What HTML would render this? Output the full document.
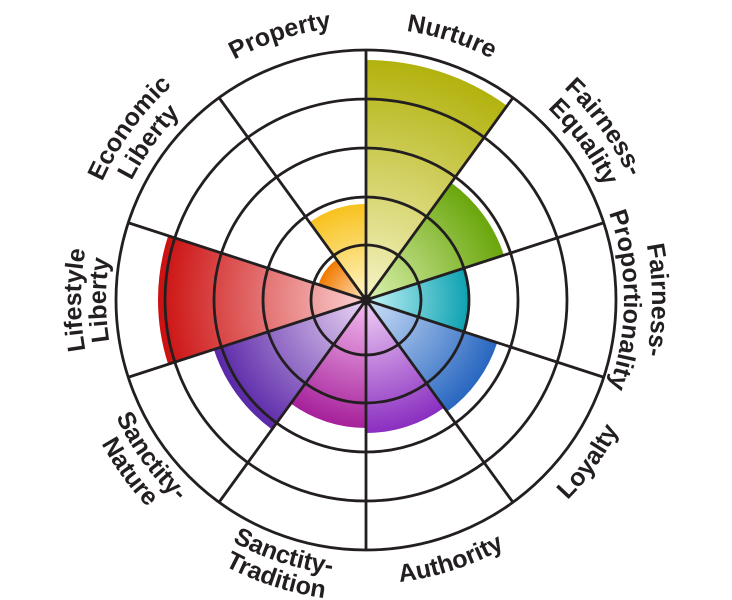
<!DOCTYPE html>
<html><head><meta charset="utf-8"><style>
html,body{margin:0;padding:0;background:#fff;}
svg{display:block;}
text{font-family:"Liberation Sans",sans-serif;font-weight:bold;fill:#231f20;font-size:25px;}
</style></head><body>
<svg id="s" width="732" height="600" viewBox="0 0 732 600" xmlns="http://www.w3.org/2000/svg"><defs id="d"></defs><g id="w"></g><g id="g" fill="none" stroke="#231f20" stroke-width="2.8"></g><g id="t"></g></svg>
<script>
var cx=366,cy=300,NS="http://www.w3.org/2000/svg";
function P(a,r){a=a*Math.PI/180;return [cx+r*Math.sin(a),cy-r*Math.cos(a)];}
var d=document.getElementById('d'),w=document.getElementById('w'),g=document.getElementById('g'),t=document.getElementById('t');
var wedges=[[240,'#f6f4c6','#b2b20e'],[145,'#dcf2b0','#6aa60c'],[102,'#c4f6f8','#0fa2b2'],[138,'#cfe2f8','#2866c0'],[133,'#f2d2f6','#8a2ec0'],[128,'#f4bdf0','#a6209a'],[160,'#ead6f4','#5a28a8'],[208,'#fbd2d2','#cc1010'],[50,'#ffe6c4','#f27a00'],[96,'#fff6c8','#f8c21e']];
wedges.forEach(function(v,i){
 var id='gr'+i;
 var gr=document.createElementNS(NS,'radialGradient');
 gr.setAttribute('id',id);gr.setAttribute('gradientUnits','userSpaceOnUse');
 gr.setAttribute('cx',cx);gr.setAttribute('cy',cy);gr.setAttribute('r',v[0]);
 gr.innerHTML='<stop offset="0" stop-color="'+v[1]+'"/><stop offset="1" stop-color="'+v[2]+'"/>';
 d.appendChild(gr);
 var a0=i*36,a1=a0+36,p0=P(a0,v[0]),p1=P(a1,v[0]);
 var p=document.createElementNS(NS,'path');
 p.setAttribute('d','M'+cx+','+cy+'L'+p0+'A'+v[0]+','+v[0]+' 0 0 1 '+p1+'Z');
 p.setAttribute('fill','url(#'+id+')');
 w.appendChild(p);
});
[55,103,152,201,250].forEach(function(r){
 var c=document.createElementNS(NS,'circle');c.setAttribute('cx',cx);c.setAttribute('cy',cy);c.setAttribute('r',r);g.appendChild(c);
});
for(var i=0;i<10;i++){var p1=P(i*36,250);var l=document.createElementNS(NS,'line');l.setAttribute('x1',cx);l.setAttribute('y1',cy);l.setAttribute('x2',p1[0]);l.setAttribute('y2',p1[1]);g.appendChild(l);}
var dot=document.createElementNS(NS,'circle');dot.setAttribute('cx',cx);dot.setAttribute('cy',cy);dot.setAttribute('r',4);dot.setAttribute('fill','#231f20');g.appendChild(dot);
var labels=[
 [18,[['Nurture',272]],1],
 [54,[['Fairness-',290],['Equality',264]],1],
 [90,[['Fairness-',286],['Proportionality',258]],1],
 [126,[['Loyalty',284]],0],
 [162,[['Authority',284]],0],
 [198,[['Sanctity-',276],['Tradition',301]],0],
 [234,[['Sanctity-',276],['Nature',301]],0],
 [270,[['Lifestyle',285],['Liberty',260]],1],
 [306,[['Economic',289],['Liberty',263]],1],
 [342,[['Property',274]],1]];
var k=0;
labels.forEach(function(L){
 L[1].forEach(function(ln){
  var r=ln[1],a0=L[0]-80,a1=L[0]+80,id='tp'+(k++),pa;
  var s=P(a0,r),e=P(a1,r);
  if(L[2]) pa='M'+s+'A'+r+','+r+' 0 0 1 '+e;
  else pa='M'+e+'A'+r+','+r+' 0 0 0 '+s;
  var p=document.createElementNS(NS,'path');p.setAttribute('id',id);p.setAttribute('d',pa);p.setAttribute('fill','none');d.appendChild(p);
  var tx=document.createElementNS(NS,'text');
  tx.innerHTML='<textPath href="#'+id+'" startOffset="50%" text-anchor="middle">'+ln[0]+'</textPath>';
  t.appendChild(tx);
 });
});
</script>
</body></html>
